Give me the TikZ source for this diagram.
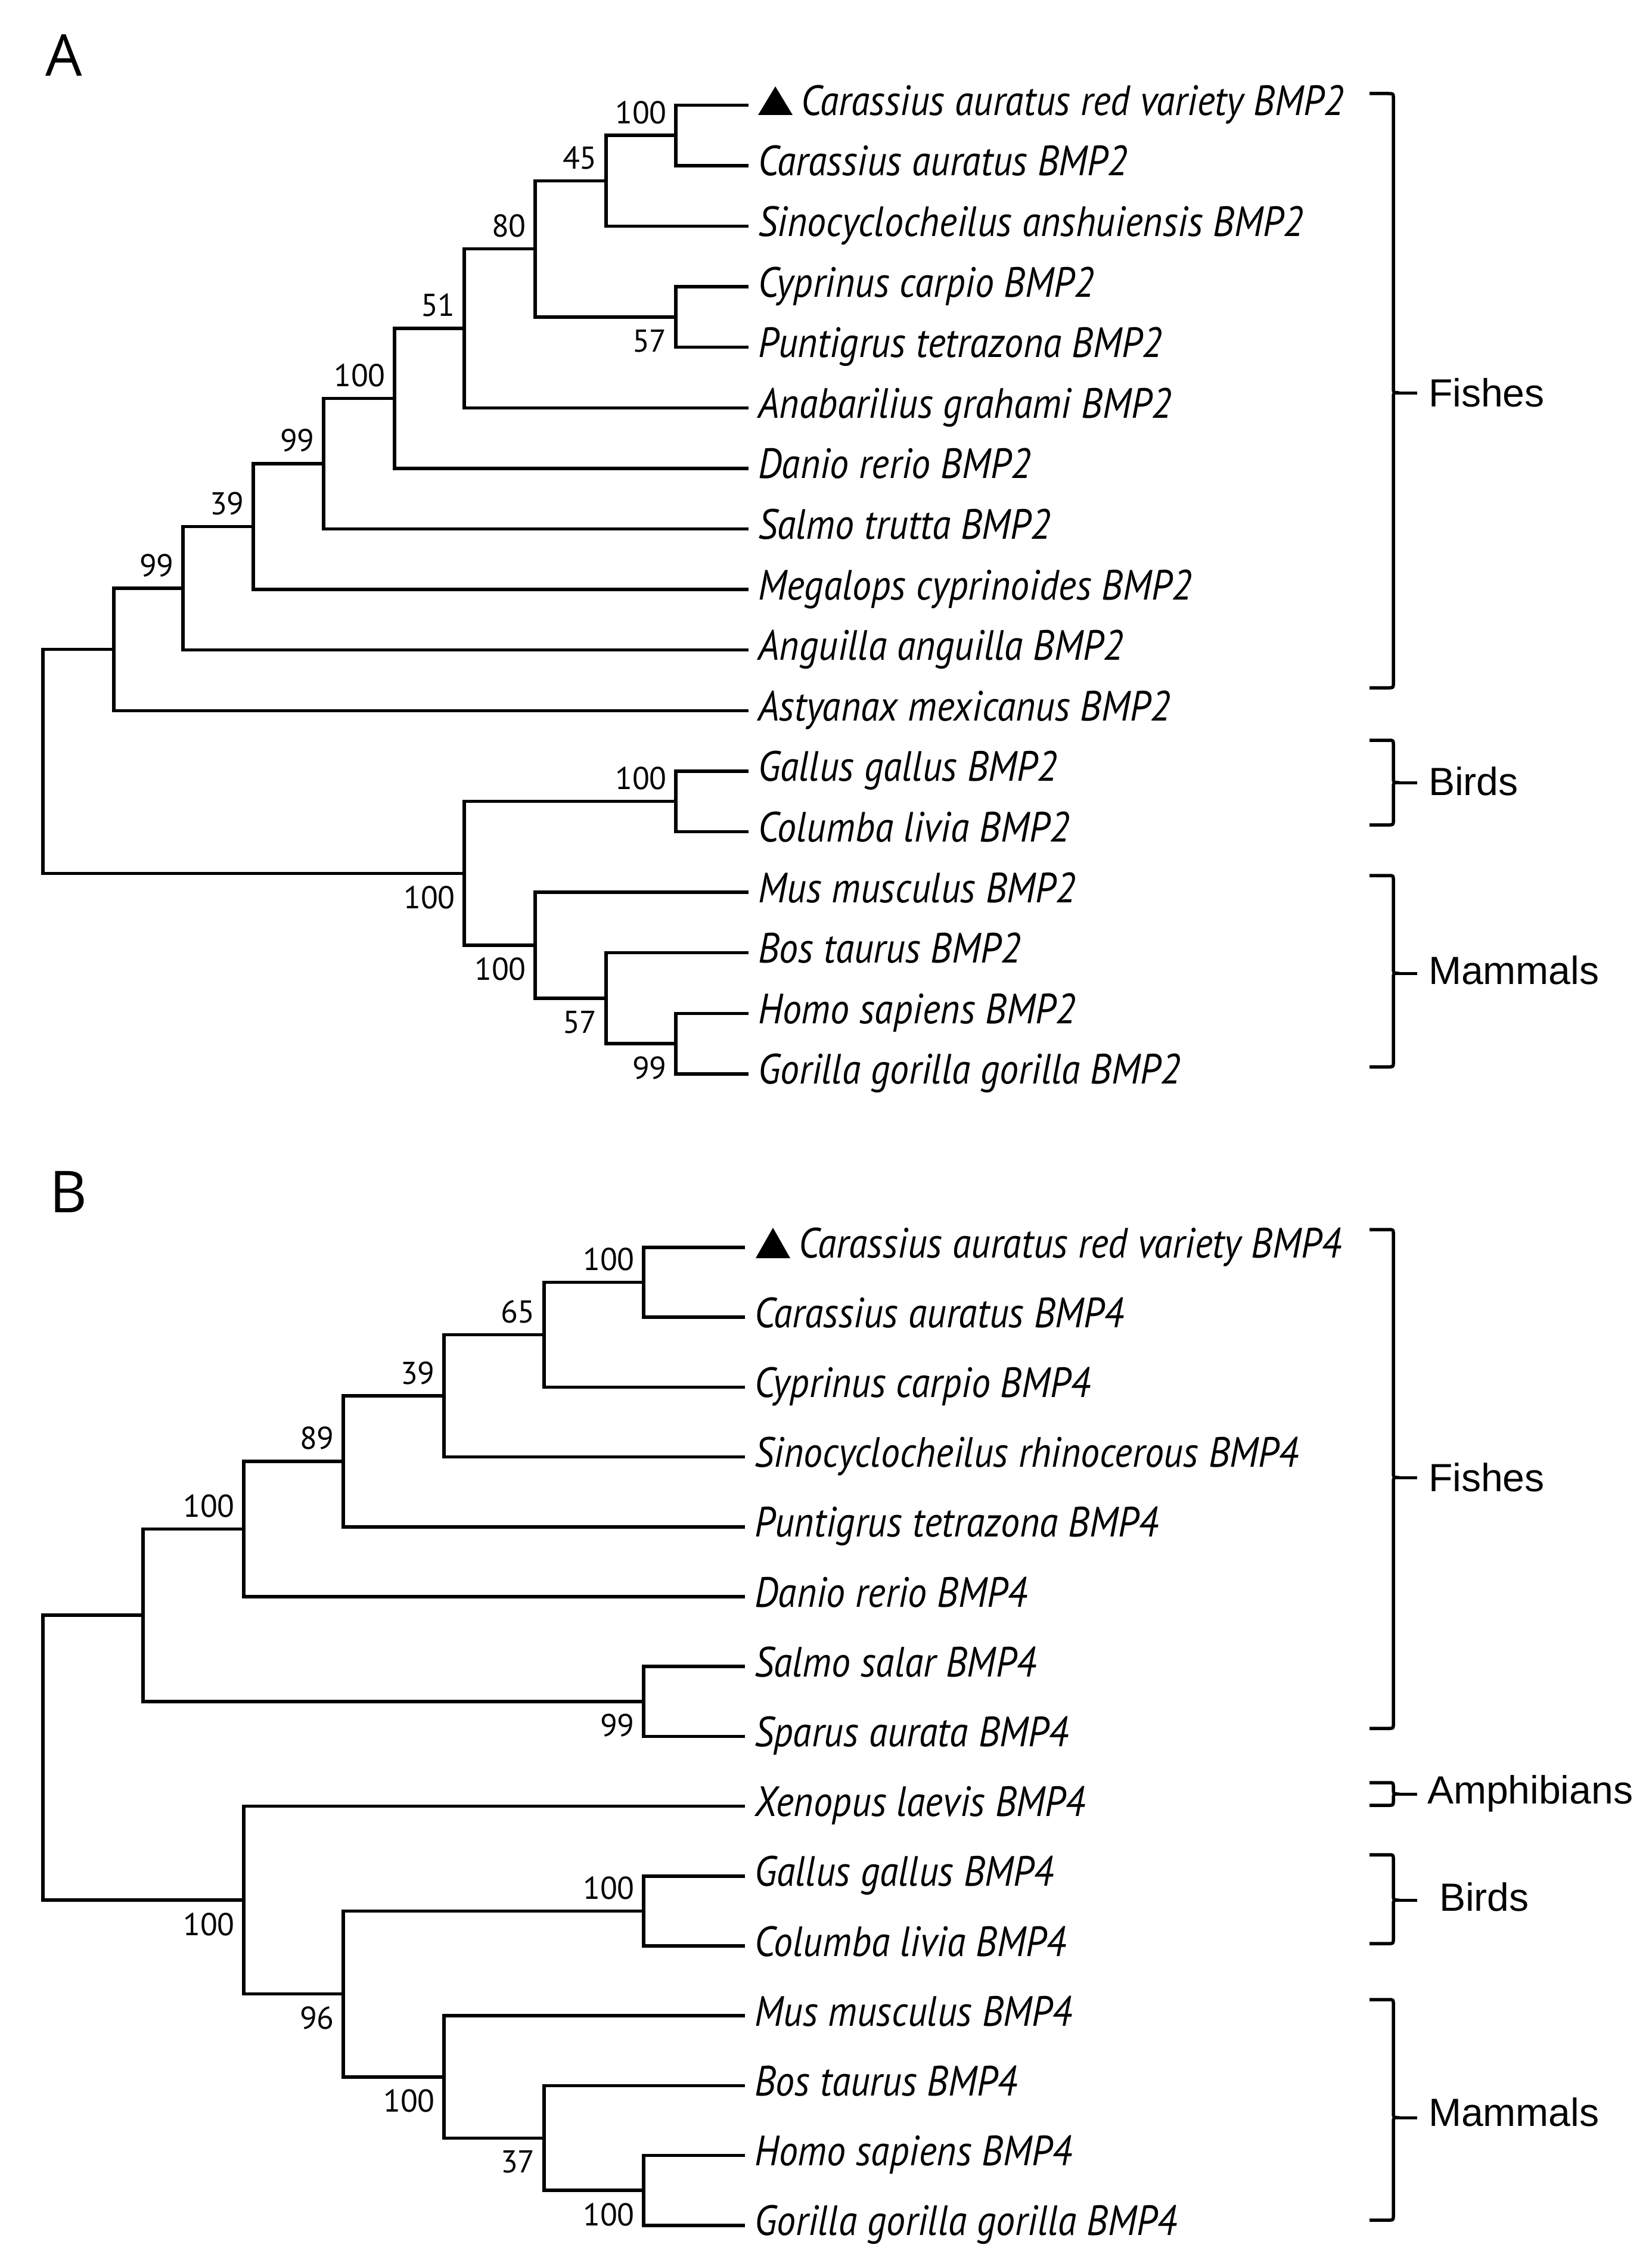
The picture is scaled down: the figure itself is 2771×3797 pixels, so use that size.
\documentclass[tikz,border=0pt]{standalone}
\usepackage{fontspec}
\setmainfont{Liberation Sans}
\newfontfamily\spfont[FakeStretch=0.9]{PT Sans}
\newfontfamily\numfont{PT Sans}
\newfontfamily\grpfont{Liberation Sans}
\newfontfamily\panfont{Open Sans}
\usetikzlibrary{calc}
\tikzset{
  br/.style={line width=5.5pt, line join=miter},
  brc/.style={line width=5.5pt, line join=round},
  sp/.style={font=\spfont\itshape\fontsize{71}{74}\selectfont, inner sep=0pt, anchor=base west},
  bs/.style={font=\numfont\fontsize{53}{56}\selectfont, inner sep=0pt},
  grp/.style={font=\grpfont\fontsize{66}{70}\selectfont, inner sep=0pt, anchor=base west},
  pan/.style={font=\panfont\fontsize{97}{100}\selectfont, inner sep=0pt, anchor=base west},
}
\newcommand\bsup[2]{\node[bs, anchor=base east] (b#1) at ([shift={(-15,-20)}]#1) {#2};}
\newcommand\bsdn[2]{\node[bs, anchor=north east] (b#1) at ([shift={(-15,21)}]#1) {#2};}
\newcommand\grpbrace[3]{%
  \draw[brc] (2298,#1) -- (2330,#1) .. controls (2338,#1) .. (2338,#1+8)
    -- (2338,#2-8) .. controls (2338,#2) .. (2347,#2)
    .. controls (2338,#2) .. (2338,#2+8)
    -- (2338,#3-8) .. controls (2338,#3) .. (2330,#3) -- (2298,#3);
  \draw[line width=5pt] (2347,#2) -- (2378,#2);}
\begin{document}
\begin{tikzpicture}[x=1pt,y=-1pt]
\fill[white] (0,0) rectangle (2771,3797);
\useasboundingbox (0,0) rectangle (2771,3797);

% ---------------- Panel A ----------------
\node[pan] (panA) at (76,128) {A};
\foreach \i in {0,...,16} {\coordinate (a\i) at (1256,{176.3+101.6*\i});}
\coordinate (nA1) at (1134,227.1);
\coordinate (nA2) at (1017,303.3);
\coordinate (nA3) at (1134,531.9);
\coordinate (nA4) at (898,417.6);
\coordinate (nA5) at (779,550.95);
\coordinate (nA6) at (662,668.4);
\coordinate (nA7) at (543,777.95);
\coordinate (nA8) at (425,883.5);
\coordinate (nA9) at (307,987.1);
\coordinate (nA10) at (191,1089.7);
\coordinate (nB1) at (1134,1344.7);
\coordinate (nB2) at (1134,1751.1);
\coordinate (nB3) at (1017,1674.9);
\coordinate (nB4) at (898,1586);
\coordinate (nB5) at (779,1465.35);
\coordinate (rA) at (72,1277.5);

\draw[br] (nA1) |- (a0); \draw[br] (nA1) |- (a1);
\draw[br] (nA2) |- (nA1); \draw[br] (nA2) |- (a2);
\draw[br] (nA3) |- (a3); \draw[br] (nA3) |- (a4);
\draw[br] (nA4) |- (nA2); \draw[br] (nA4) |- (nA3);
\draw[br] (nA5) |- (nA4); \draw[br] (nA5) |- (a5);
\draw[br] (nA6) |- (nA5); \draw[br] (nA6) |- (a6);
\draw[br] (nA7) |- (nA6); \draw[br] (nA7) |- (a7);
\draw[br] (nA8) |- (nA7); \draw[br] (nA8) |- (a8);
\draw[br] (nA9) |- (nA8); \draw[br] (nA9) |- (a9);
\draw[br] (nA10) |- (nA9); \draw[br] (nA10) |- (a10);
\draw[br] (nB1) |- (a11); \draw[br] (nB1) |- (a12);
\draw[br] (nB2) |- (a15); \draw[br] (nB2) |- (a16);
\draw[br] (nB3) |- (a14); \draw[br] (nB3) |- (nB2);
\draw[br] (nB4) |- (a13); \draw[br] (nB4) |- (nB3);
\draw[br] (nB5) |- (nB1); \draw[br] (nB5) |- (nB4);
\draw[br] (rA) |- (nA10); \draw[br] (rA) |- (nB5);

\bsup{nA1}{100} \bsup{nA2}{45} \bsdn{nA3}{57} \bsup{nA4}{80}
\bsup{nA5}{51} \bsup{nA6}{100} \bsup{nA7}{99} \bsup{nA8}{39} \bsup{nA9}{99}
\bsup{nB1}{100} \bsdn{nB5}{100} \bsdn{nB4}{100} \bsdn{nB3}{57} \bsdn{nB2}{99}

\fill (1272,193) -- (1330,193) -- (1301,145) -- cycle;
\node[sp] (la0) at (1344,193.3) {Carassius auratus red variety BMP2};
\foreach \i/\t in {1/Carassius auratus BMP2, 2/Sinocyclocheilus anshuiensis BMP2,
  3/Cyprinus carpio BMP2, 4/Puntigrus tetrazona BMP2, 5/Anabarilius grahami BMP2,
  6/Danio rerio BMP2, 7/Salmo trutta BMP2, 8/Megalops cyprinoides BMP2,
  9/Anguilla anguilla BMP2, 10/Astyanax mexicanus BMP2, 11/Gallus gallus BMP2,
  12/Columba livia BMP2, 13/Mus musculus BMP2, 14/Bos taurus BMP2,
  15/Homo sapiens BMP2, 16/Gorilla gorilla gorilla BMP2}
  {\node[sp] (la\i) at ([shift={(16,17)}]a\i) {\t};}

\grpbrace{157}{659}{1154}
\grpbrace{1242}{1313}{1384}
\grpbrace{1469}{1633}{1790}
\node[grp] (gA1) at (2397,682) {Fishes};
\node[grp] (gA2) at (2397,1334) {Birds};
\node[grp] (gA3) at (2397,1651) {Mammals};

% ---------------- Panel B ----------------
\node[pan] (panB) at (83,2034) {B};
\foreach \i in {0,...,14} {\coordinate (b\i) at (1250,{2093+117.2*\i});}
\coordinate (m1) at (1080,2151.6);
\coordinate (m2) at (913,2239.5);
\coordinate (m3) at (745,2342.05);
\coordinate (m4) at (576,2451.9);
\coordinate (m5) at (409,2565.45);
\coordinate (m6) at (1080,2854.8);
\coordinate (m7) at (240,2710.1);
\coordinate (m8) at (1080,3206.4);
\coordinate (m9) at (1080,3675.2);
\coordinate (m10) at (913,3587.3);
\coordinate (m11) at (745,3484.75);
\coordinate (m12) at (576,3345.6);
\coordinate (m13) at (409,3188.1);
\coordinate (rB) at (72,2949.1);

\draw[br] (m1) |- (b0); \draw[br] (m1) |- (b1);
\draw[br] (m2) |- (m1); \draw[br] (m2) |- (b2);
\draw[br] (m3) |- (m2); \draw[br] (m3) |- (b3);
\draw[br] (m4) |- (m3); \draw[br] (m4) |- (b4);
\draw[br] (m5) |- (m4); \draw[br] (m5) |- (b5);
\draw[br] (m6) |- (b6); \draw[br] (m6) |- (b7);
\draw[br] (m7) |- (m5); \draw[br] (m7) |- (m6);
\draw[br] (m8) |- (b9); \draw[br] (m8) |- (b10);
\draw[br] (m9) |- (b13); \draw[br] (m9) |- (b14);
\draw[br] (m10) |- (b12); \draw[br] (m10) |- (m9);
\draw[br] (m11) |- (b11); \draw[br] (m11) |- (m10);
\draw[br] (m12) |- (m8); \draw[br] (m12) |- (m11);
\draw[br] (m13) |- (b8); \draw[br] (m13) |- (m12);
\draw[br] (rB) |- (m7); \draw[br] (rB) |- (m13);

\bsup{m1}{100} \bsup{m2}{65} \bsup{m3}{39} \bsup{m4}{89} \bsup{m5}{100}
\bsdn{m6}{99} \bsup{m8}{100} \bsdn{m9}{100} \bsdn{m10}{37} \bsdn{m11}{100}
\bsdn{m12}{96} \bsdn{m13}{100}

\fill (1268,2111) -- (1326,2111) -- (1297,2060) -- cycle;
\node[sp] (lb0) at (1340,2110) {Carassius auratus red variety BMP4};
\foreach \i/\t in {1/Carassius auratus BMP4, 2/Cyprinus carpio BMP4,
  3/Sinocyclocheilus rhinocerous BMP4, 4/Puntigrus tetrazona BMP4,
  5/Danio rerio BMP4, 6/Salmo salar BMP4, 7/Sparus aurata BMP4,
  8/Xenopus laevis BMP4, 9/Gallus gallus BMP4, 10/Columba livia BMP4,
  11/Mus musculus BMP4, 12/Bos taurus BMP4, 13/Homo sapiens BMP4,
  14/Gorilla gorilla gorilla BMP4}
  {\node[sp] (lb\i) at ([shift={(16,17)}]b\i) {\t};}

\grpbrace{2063}{2479}{2900}
\grpbrace{2991}{3010}{3029}
\grpbrace{3112}{3188}{3261}
\grpbrace{3355}{3553}{3725}
\node[grp] (gB1) at (2397,2502) {Fishes};
\node[grp] (gB2) at (2395,3026) {Amphibians};
\node[grp] (gB3) at (2415,3206) {Birds};
\node[grp] (gB4) at (2397,3567) {Mammals};
\end{tikzpicture}
\end{document}
